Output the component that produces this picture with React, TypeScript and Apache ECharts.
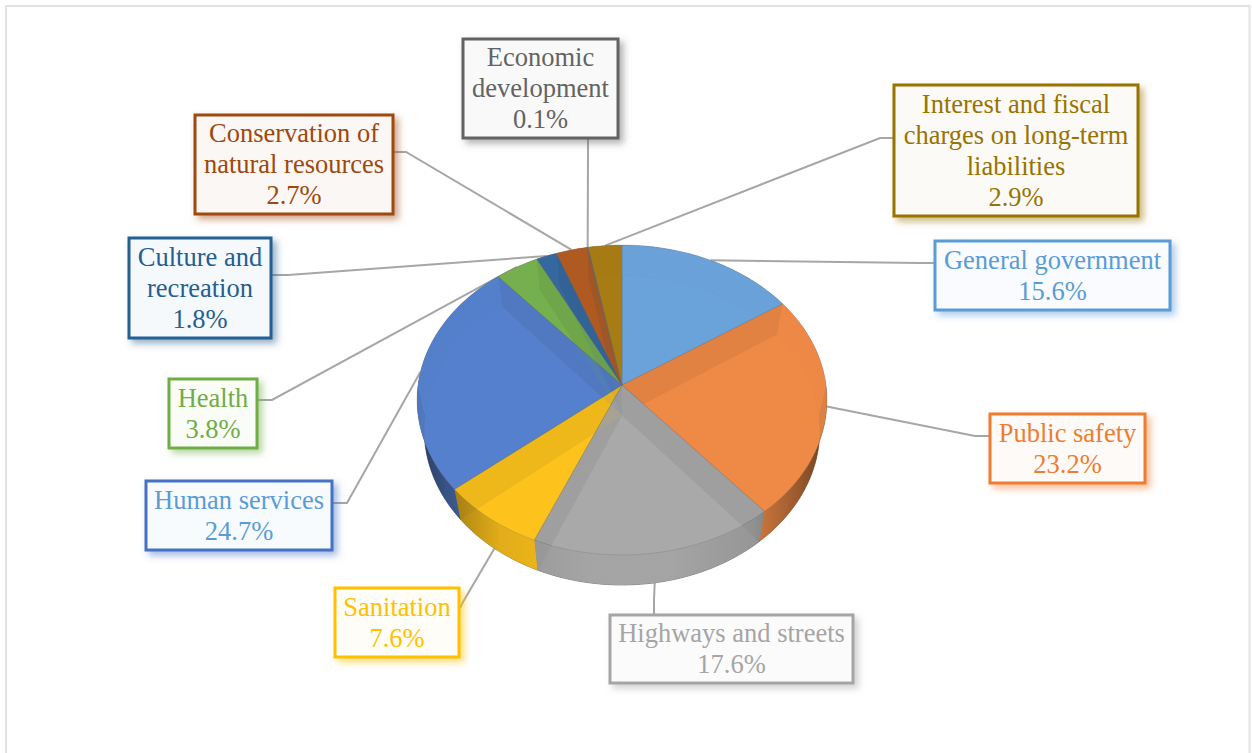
import React, { useEffect, useRef } from "react";
import * as echarts from "echarts";

// ---- data ----
const categories = [
  "General government",
  "Public safety",
  "Highways and streets",
  "Sanitation",
  "Human services",
  "Health",
  "Culture and\nrecreation",
  "Conservation of\nnatural resources",
  "Economic\ndevelopment",
  "Interest and fiscal\ncharges on long-term\nliabilities",
];
const values = [15.6, 23.2, 17.6, 7.6, 24.7, 3.8, 1.8, 2.7, 0.1, 2.9];

// ---- styling ----
const faceColors = ["#6aa2d9", "#ee8a46", "#a9a9a9", "#fdc21c", "#5580cc", "#76b04f", "#35689f", "#b05a22", "#6e6e6e", "#a87c14"];
const borderColors = ["#5b9bd5", "#ed7d31", "#a5a5a5", "#ffc000", "#4472c4", "#70ad47", "#255e91", "#9e480e", "#636363", "#997300"];
const textColors = ["#5b9bd5", "#ed7d31", "#a5a5a5", "#ffc000", "#5b9bd5", "#70ad47", "#255e91", "#9e480e", "#636363", "#997300"];
const boxFills = ["#f9fbfe", "#fefaf7", "#fbfbfb", "#fffdf7", "#f8fbfe", "#fafcf8", "#f6f9fc", "#fbf7f5", "#f9f9f9", "#fbfaf7"];

// label box [left, top, right, bottom] and leader start + elbow
const boxes = [
  [935, 241, 1170, 310],
  [990, 414, 1145, 483],
  [610, 615, 853, 683],
  [335, 588, 459, 657],
  [146, 481, 332, 550],
  [169, 379, 257, 448],
  [129, 238, 271, 338],
  [195, 115, 393, 214],
  [463, 39, 618, 138],
  [894, 85, 1138, 216],
];
const leaderStarts = [
  [[934, 263], [920, 263]],
  [[989, 436], [975, 436]],
  [[654, 614], [654, 600]],
  [[460, 608], [463, 602]],
  [[333, 503], [347, 503]],
  [[257, 400], [272, 400]],
  [[271, 275], [288, 275]],
  [[393, 152], [406, 152]],
  [[588, 138], [588, 155]],
  [[893, 138], [880, 138]],
];

// ---- pie projection ----
const CX = 622;
const CY = 385;
const R = 204;
const B = 153.5;
const PERSP = -0.0968;
const DEPTH = 30;
const BASE_SCALE = 0.965;
const TOTAL = values.reduce((a, b) => a + b, 0);
const cumulative = values.reduce<number[]>((acc, v) => [...acc, acc[acc.length - 1] + v], [0]);
const angleOf = (share: number) => (share / TOTAL) * 360;

function top(deg: number): [number, number] {
  const t = (deg * Math.PI) / 180;
  const X = Math.sin(t);
  const Y = -Math.cos(t);
  const d = 1 + PERSP * Y;
  return [CX + (R * X) / d, CY + (B * Y) / d];
}
function base(deg: number): [number, number] {
  const [x, y] = top(deg);
  return [CX + (x - CX) * BASE_SCALE, y + DEPTH];
}
function arc(from: number, to: number, fn: (d: number) => [number, number]) {
  const pts: [number, number][] = [];
  const n = Math.max(1, Math.ceil((to - from) / 1.5));
  for (let i = 0; i <= n; i++) pts.push(fn(from + ((to - from) * i) / n));
  return pts;
}
function shade(hex: string, f: number) {
  const n = parseInt(hex.slice(1), 16);
  const c = [(n >> 16) & 255, (n >> 8) & 255, n & 255].map((v) => Math.round(v * f));
  return `rgb(${c[0]},${c[1]},${c[2]})`;
}
function span(i: number) {
  return [angleOf(cumulative[i]), angleOf(cumulative[i + 1])];
}

const pieData = values.map((v, i) => ({ name: categories[i], value: v }));

function layer(z: number, renderItem: any) {
  return {
    type: "custom",
    coordinateSystem: "none",
    silent: true,
    z,
    clip: false,
    data: pieData,
    renderItem,
  };
}

function App() {
  const ref = useRef<HTMLDivElement>(null);
  useEffect(() => {
    document.body.style.margin = "0";
    const chart = echarts.init(ref.current!, undefined, { renderer: "svg" });

    const bottoms = layer(2, (p: any) => {
      const [a, b] = span(p.dataIndex);
      return {
        type: "polygon",
        shape: { points: [[CX, CY + DEPTH], ...arc(a, b, base)] },
        style: { fill: faceColors[p.dataIndex], stroke: "rgba(70,70,70,0.55)", lineWidth: 1 },
      };
    });

    const wallPiece = (a: number, b: number, fill: any, opacity: number) => ({
      type: "polygon",
      shape: { points: [...arc(a, b, top), ...arc(a, b, base).reverse()] },
      style: { fill, opacity },
    });

    const backWalls = layer(3, (p: any) => {
      const [a, b] = span(p.dataIndex);
      const c = shade(faceColors[p.dataIndex], 0.95);
      const children: any[] = [];
      if (a < 90) children.push(wallPiece(a, Math.min(b, 90), c, 1));
      if (b > 270) children.push(wallPiece(Math.max(a, 270), b, c, 1));
      return { type: "group", children };
    });

    const radials = layer(4, (p: any) => {
      const [a, b] = span(p.dataIndex);
      const c = shade(faceColors[p.dataIndex], 0.62);
      const children: any[] = [];
      const wall = (d: number) => ({
        type: "polygon",
        shape: { points: [[CX, CY], top(d), base(d), [CX, CY + DEPTH]] },
        style: { fill: c },
      });
      if (Math.sin((a * Math.PI) / 180) > 0.001) children.push(wall(a));
      if (Math.sin((b * Math.PI) / 180) < -0.001) children.push(wall(b));
      return { type: "group", children };
    });

    const frontWalls = layer(5, (p: any) => {
      const [a, b] = span(p.dataIndex);
      const lo = Math.max(a, 90);
      const hi = Math.min(b, 270);
      if (hi <= lo) return { type: "group", children: [] };
      const col = faceColors[p.dataIndex];
      const fill = new echarts.graphic.LinearGradient(
        CX - R,
        0,
        CX + R,
        0,
        [
          { offset: 0, color: shade(col, 0.42) },
          { offset: 0.07, color: shade(col, 0.62) },
          { offset: 0.2, color: shade(col, 0.88) },
          { offset: 0.42, color: shade(col, 0.97) },
          { offset: 0.62, color: shade(col, 0.97) },
          { offset: 0.82, color: shade(col, 0.88) },
          { offset: 0.93, color: shade(col, 0.62) },
          { offset: 1, color: shade(col, 0.42) },
        ],
        true
      );
      return wallPiece(lo, hi, fill, 0.92);
    });

    const tops = layer(6, (p: any) => {
      const [a, b] = span(p.dataIndex);
      return {
        type: "polygon",
        shape: { points: [[CX, CY], ...arc(a, b, top)] },
        style: {
          fill: faceColors[p.dataIndex],
          opacity: 0.85,
          stroke: "rgba(110,110,110,0.4)",
          lineWidth: 0.8,
        },
      };
    });

    const leaders = layer(1, (p: any) => {
      const [a, b] = span(p.dataIndex);
      const mid = (a + b) / 2;
      const front = Math.abs(mid - 180) < 60;
      const end = front ? base(mid) : top(mid);
      const [s, e] = leaderStarts[p.dataIndex];
      return {
        type: "polyline",
        shape: { points: [s, e, end] },
        style: { fill: "none", stroke: "#a6a6a6", lineWidth: 2 },
      };
    });

    const labels = layer(7, (p: any, api: any) => {
      const i = p.dataIndex;
      const [l, t, r, bt] = boxes[i];
      return {
        type: "group",
        children: [
          {
            type: "rect",
            shape: { x: l, y: t, width: r - l, height: bt - t },
            style: {
              fill: boxFills[i],
              stroke: borderColors[i],
              lineWidth: 3,
              shadowBlur: 7,
              shadowOffsetX: 4,
              shadowOffsetY: 4,
              shadowColor: borderColors[i] + "80",
            },
          },
          {
            type: "text",
            x: (l + r) / 2,
            y: (t + bt) / 2 - 0.5,
            style: {
              text: `${categories[i]}\n${api.value(0).toFixed(1)}%`,
              align: "center",
              verticalAlign: "middle",
              fontFamily: "'Liberation Serif', serif",
              fontSize: 26.5,
              lineHeight: 31,
              fill: textColors[i],
            },
          },
        ],
      };
    });

    chart.setOption({
      animation: false,
      backgroundColor: "#ffffff",
      graphic: [
        {
          type: "rect",
          z: -1,
          shape: { x: 6, y: 6, width: 1243.5, height: 790 },
          style: { fill: "#ffffff", stroke: "#e2e2e2", lineWidth: 2 },
        },
      ],
      series: [leaders, bottoms, backWalls, radials, frontWalls, tops, labels],
    });
    return () => chart.dispose();
  }, []);
  return <div ref={ref} style={{ width: 1252, height: 753 }} />;
}

export default App;
